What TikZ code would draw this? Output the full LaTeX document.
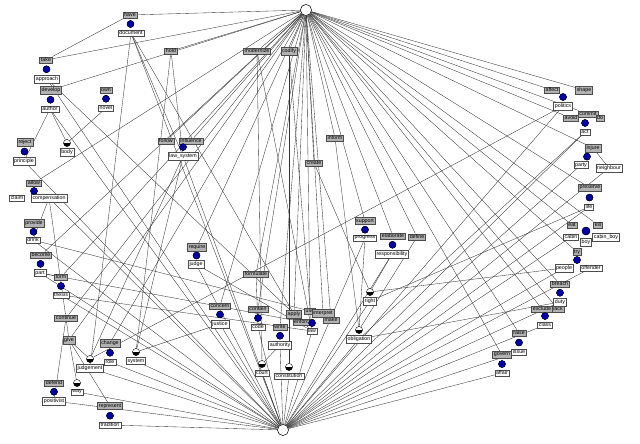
\documentclass[tikz,border=0pt]{standalone}
\usepackage{fontspec}
\setmainfont{Liberation Sans}
\usetikzlibrary{calc}
\begin{document}
\begin{tikzpicture}[x=1pt,y=-1pt,
  every node/.style={font=\fontsize{5.3}{6}\selectfont,inner sep=1.3pt},
  verb/.style={draw=black!70,fill=black!30,line width=0.5pt},
  noun/.style={draw=black!70,fill=white,line width=0.4pt},
  bdot/.style={circle,fill=blue!65!black,draw=black,line width=0.3pt,minimum size=7pt,inner sep=0pt},
  hdot/.style={circle,draw=black,fill=white,line width=0.3pt,minimum size=7pt,inner sep=0pt,
     path picture={\fill[black] (path picture bounding box.west) rectangle (path picture bounding box.south east);}},
  ln/.style={black!80,line width=0.35pt}]
\useasboundingbox (0,0) rectangle (640,444);
% hubs
\node[circle,draw,fill=white,minimum size=11pt,inner sep=0pt] (T) at (306,10) {};
\node[circle,draw,fill=white,minimum size=11pt,inner sep=0pt] (B) at (283,430) {};
% verbs with dot and noun
\foreach \v/\vx/\vy/\n/\nl/\nx/\ny in {
 have/130/15/document/document/131/33,
 take/46/60/approach/approach/47/79,
 develop/51/90/author/author/50/109,
 own/106/90/novel/novel/106/108,
 reject/25/142/principle/principle/24/161,
 provide/34/223/drink/drink/33/240,
 become/41/255/part/part/40/273,
 form/61/277/thesis/thesis/61/295,
 change/110/343/role/role/110/362,
 defend/54/383/positivist/positivist/54/401,
 represent/110/406/tradition/tradition/110/425,
 require/197/247/judge/judge/196/264,
 concern/220/306/justice/justice/220/324,
 contain/258/309/code/code/258/327,
 write/280/327/authority/authority/280/345,
 support/365/221/progress/progress/365/238,
 elaborate/393/236/responsibility/responsibility/392/254,
 injure/593/148/party/party/581/165,
 preserve/590/188/life/life/589/207,
 breach/560/284/duty/duty/560/302,
 raise/519/333/issue/issue/519/352,
 govern/502/355/affair/affair/502/373}
 {\node[verb] (\v) at (\vx,\vy) {\v};
  \node[noun] (\n) at (\nx,\ny) {\nl};
  \node[bdot] (d\v) at ($(\v.south)!0.5!(\n.north)$) {};}
% half-dot nouns
\foreach \n/\nx/\ny in {body/67/152,judgement/90/368,system/136/361,way/77/392,court/262/373,constitution/289/376,right/370/301,obligation/359/339}
 {\node[noun] (\n) at (\nx,\ny) {\n};
  \node[hdot] (h\n) at (\nx,\ny-9) {};}
% single verbs
\foreach \v/\vx/\vy in {hold/171/51,modernize/257/51,codify/289/51,follow/166/141,influence/191/141,continue/66/318,give/69/340,formulate/256/274,inform/335/138,create/314/163,define/417/237,allow/34/183,affect/552/90,shape/584/90,avoid/571/118,commit/588/114,do/600/118,eat/572/225,kill/598/225,try/577/252,exclude/542/309,lack/558/309,apply/294/314,use/310/311,interpret/323/313,enforce/303/322,make/331/320}
 {\node[verb] (\v) at (\vx,\vy) {\v};}
\node[noun] (law_system) at (183,156) {law\_system};
\node[bdot] (dls) at (183,147) {};
\node[noun] (claim) at (17,198) {claim};
\node[noun] (compensation) at (49,198) {compensation};
\node[bdot] (dallow) at (34,191) {};
\node[noun] (law) at (312,331) {law};
\node[bdot] (dlaw) at (312,323) {};
\node[noun] (politics) at (563,106) {politics};
\node[bdot] (dpol) at (563,97) {};
\node[noun] (act) at (585,132) {act};
\node[bdot] (dact) at (585,123) {};
\node[noun] (neighbour) at (609,168) {neighbour};
\node[noun] (cabin) at (571,237) {cabin};
\node[noun] (cabin_boy) at (606,237) {cabin\_boy};
\node[noun] (boy) at (586,242) {boy};
\node[bdot,minimum size=8pt] (deat) at (586,231) {};
\node[noun] (people) at (564,268) {people};
\node[noun] (offender) at (591,268) {offender};
\node[bdot] (dtry) at (577,260) {};
\node[noun] (class) at (545,325) {class};
\node[bdot] (dexc) at (545,316) {};
% edges from top hub
\foreach \v in {have,take,develop,hold,modernize,codify,follow,influence,require,formulate,concern,contain,write,support,elaborate,define,inform,create,affect,shape,avoid,commit,injure,preserve,eat,kill,try,breach,exclude,lack,raise,govern,apply,use,interpret,make,allow,change,give,form,continue,become}
 {\draw[ln] (T) -- (\v);}
% edges to bottom hub
\foreach \n in {tradition,positivist,way,judgement,thesis,part,drink,principle,approach,author,court,constitution,law,obligation,right,affair,issue,class,duty,people,offender,life,party,act,politics,justice,code,authority,system,role,judge,progress,responsibility,compensation,document,law_system,cabin,neighbour}
 {\draw[ln] (B) -- (\n);}
% other edges
\draw[ln] (author) -- (hbody);
\draw[ln] (novel) -- (hbody);
\draw[ln] (author) -- (principle);
\draw[ln] (take) -- (have);
\draw[ln] (document) -- (judgement);
\draw[ln] (document) -- (law_system);
\draw[ln] (document) -- (apply);
\draw[ln] (hold) -- (hsystem);
\draw[ln] (hold) -- (law_system);
\draw[ln] (law_system) -- (hsystem);
\draw[ln] (law_system) -- (hjudgement);
\draw[ln] (modernize) -- (law);
\draw[ln] (codify) -- (law);
\draw[ln] (modernize) -- (hcourt);
\draw[ln] (codify) -- (hconstitution);
\draw[ln] (formulate) -- (code);
\draw[ln] (justice) -- (hsystem);
\draw[ln] (authority) -- (hcourt);
\draw[ln] (inform) -- (hobligation);
\draw[ln] (create) -- (hright);
\draw[ln] (progress) -- (hobligation);
\draw[ln] (responsibility) -- (hright);
\draw[ln] (define) -- (hobligation);
\draw[ln] (continue) -- (give);
\draw[ln] (give) -- (hjudgement);
\draw[ln] (give) -- (hway);
\draw[ln] (give) -- (represent);
\draw[ln] (positivist) -- (continue);
\draw[ln] (part) -- (form);
\draw[ln] (part) -- (enforce);
\draw[ln] (thesis) -- (law);
\draw[ln] (judge) -- (law);
\draw[ln] (drink) -- (use);
\draw[ln] (compensation) -- (continue);
\draw[ln] (approach) -- (law);
\draw[ln] (politics) -- (hjudgement);
\draw[ln] (act) -- (obligation);
\draw[ln] (life) -- (right);
\draw[ln] (injure) -- (neighbour);
\draw[ln] (people) -- (hright);
\draw[ln] (duty) -- (obligation);
\draw[ln] (compensation) -- (drink);
% redraw nodes on top
\foreach \v in {have,take,develop,own,reject,provide,become,form,change,defend,represent,require,concern,contain,write,support,elaborate,injure,preserve,breach,raise,govern,hold,modernize,codify,follow,influence,continue,give,formulate,inform,create,define,allow,affect,shape,avoid,commit,do,eat,kill,try,exclude,lack,apply,use,interpret,enforce,make}
 {\node[verb] at (\v) {\v};}
\foreach \n in {document,approach,author,novel,principle,drink,part,thesis,role,positivist,tradition,judge,justice,code,authority,progress,responsibility,party,life,duty,issue,affair,body,judgement,system,way,court,constitution,right,obligation,law,claim,compensation,politics,act,neighbour,cabin,boy,people,offender,class}
 {\node[noun] at (\n) {\n};}
\node[noun] at (law_system) {law\_system};
\node[noun] at (cabin_boy) {cabin\_boy};
\foreach \d in {dhave,dtake,ddevelop,down,dreject,dprovide,dbecome,dform,dchange,ddefend,drepresent,drequire,dconcern,dcontain,dwrite,dsupport,delaborate,dinjure,dpreserve,dbreach,draise,dgovern,dls,dallow,dlaw,dpol,dact,dtry,dexc}
 {\node[bdot] at (\d) {};}
\node[bdot,minimum size=8pt] at (deat) {};
\foreach \n in {body,judgement,system,way,court,constitution,right,obligation}
 {\node[hdot] at (h\n) {};}
\node[circle,draw,fill=white,minimum size=11pt,inner sep=0pt] at (T) {};
\node[circle,draw,fill=white,minimum size=11pt,inner sep=0pt] at (B) {};
\end{tikzpicture}
\end{document}
